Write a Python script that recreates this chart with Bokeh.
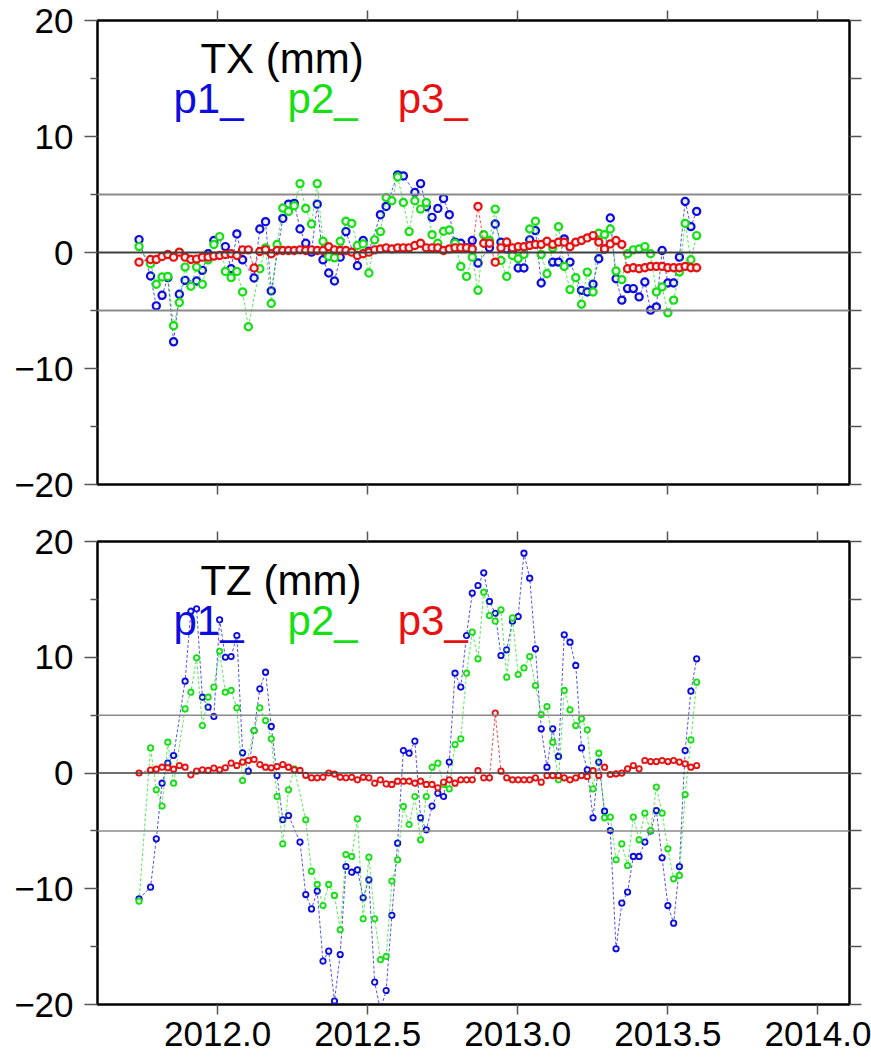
import numpy as np
import pandas as pd
from bokeh.plotting import figure
from bokeh.layouts import column
from bokeh.models import Range1d, FixedTicker, LinearAxis, Span, Label
from bokeh.embed import file_html
from bokeh.resources import INLINE

N = None
# weekly epochs (decimal years)
epochs = pd.date_range("2011-09-27", periods=98, freq="7D")
years = (epochs.year + (epochs.dayofyear - 0.5) / np.where(epochs.is_leap_year, 366, 365)).to_numpy()

x_ticks = [2012.0, 2012.5, 2013.0, 2013.5, 2014.0]
x_tick_labels = ["2012.0", "2012.5", "2013.0", "2013.5", "2014.0"]
y_ticks = [-20, -10, 0, 10, 20]
y_tick_labels = ["\u221220", "\u221210", "0", "10", "20"]
y_minor = [-15, -5, 5, 15]
series_names = ["p1_", "p2_", "p3_"]

tx_p1 = [1.11, N, -2.03, -4.6, -3.69, -2.17, -7.7, -3.6, -2.4, N,
         -2.46, -1.54, -0.11, 1.03, N, 0.51, -1.4, 1.6, -0.63, N,
         -2.2, 2.03, 2.66, -3.31, N, 2.94, 4.17, 4.23, 2.03, 0.8,
         0.03, 4.17, -0.63, -1.77, -2.46, -0.4, 1.8, N, -1.14, 1.03,
         0.11, N, 3.26, 3.97, N, 6.69, 6.6, N, 5.17, 5.94,
         3.94, 3.03, 3.8, 4.66, 3.26, 0.89, 0.8, 0.4, 1.03, -0.91,
         N, 0.4, 2.46, 0.89, 0.3, 0.2, -1.34, -1.34, 1.09, 1.89,
         -2.63, N, -0.83, -0.83, 1.17, -0.83, N, -3.26, -3.4, -2.74,
         -0.54, 0.3, 2.97, -2.26, -4.11, -3.11, -3.11, -3.83, -2.54, -4.97,
         -4.69, 0.17, -2.63, -2.63, -0.4, 4.4, 2.23, 3.54]
tx_p2 = [0.51, N, -0.97, -2.74, -2.11, -2.06, -6.31, -4.31, -1.26, -2.91,
         -1.26, -2.74, -0.63, 0.69, 1.37, -1.63, -2.17, -1.63, -3.4, -6.4,
         N, -1.4, 0.4, -4.4, 0.69, 3.83, 3.54, 4.03, 5.94, 3.8,
         2.46, 5.94, 0.97, -0.34, -0.46, 0.97, 2.69, 2.51, 0.6, 0.74,
         -1.77, 1.09, 1.8, 4.74, 4.46, 6.51, 4.31, 1.8, 4.46, 3.74,
         4.31, 1.54, 0.8, 1.83, 1.94, 0.8, -1.2, -2.06, -0.4, -3.26,
         1.54, 1.03, 3.74, -0.69, -2.06, -0.26, -0.54, -0.17, 2.03, 2.69,
         -0.17, -1.83, 0.4, 2.23, -1.2, -3.2, -2.17, -4.46, -1.69, -3.4,
         1.66, 1.54, 2.03, -1.6, -2.34, -0.11, 0.23, 0.31, 0.51, -0.11,
         -3.4, -2.97, -5.2, -4.11, -1.69, 2.51, -0.63, 1.46]
tx_p3 = [-0.83, N, -0.6, -0.6, -0.34, -0.17, -0.4, 0.03, -0.4, -0.6,
         -0.57, -0.4, -0.4, -0.31, -0.26, -0.17, -0.11, -0.26, 0.23, 0.23,
         -1.34, 0.09, 0.23, -0.11, 0.17, 0.17, 0.17, 0.17, 0.23, 0.17,
         0.23, 0.17, 0.17, 0.5, 0.23, 0.17, 0.17, 0.03, -0.26, -0.11,
         0.03, 0.23, 0.31, 0.4, 0.31, 0.4, 0.4, 0.4, 0.6, 0.8,
         0.4, 0.4, 0.4, 0.17, 0.31, 0.4, 0.4, 0.4, 0.31, 3.97,
         0.8, 0.8, -0.83, 0.4, 0.9, 0.4, 0.5, 0.5, 0.6, 0.69,
         0.69, 0.97, 0.69, 0.89, 0.89, 0.5, 0.89, 1.03, 1.26, 1.46,
         0.89, 0.3, 0.74, 1.03, 0.69, -1.4, -1.31, -1.4, -1.31, -1.2,
         -1.2, -1.2, -1.31, -1.31, -1.31, -1.2, -1.31, -1.31]

tz_p1 = [-10.87, N, -9.86, -5.69, -0.88, 0.85, 1.51, N, 7.93, 13.98,
         14.18, 6.55, 5.69, 4.88, 13.23, 10.0, 10.06, 11.88, 1.74, 0.16,
         3.67, 7.27, 8.71, 4.02, -0.22, -4.04, -3.67, N, -5.97, -10.5,
         -11.74, -10.2, -16.25, -15.39, -19.7, -15.68, -8.08, -8.57, -8.37, -10.78,
         -9.23, -18.07, -20.5, -18.79, -12.3, -6.06, 1.94, 1.71, 2.75, -3.87,
         -4.91, -2.86, -1.74, -2.03, 0.94, 8.62, 7.42, 11.88, 15.54, 16.2,
         17.29, 14.82, 13.8, 10.15, 10.64, 13.12, 13.52, 18.99, 16.83, 10.73,
         3.82, 0.5, 3.82, 1.43, 11.94, 11.3, 9.29, 2.17, 0.27, -3.87,
         0.94, -3.3, -4.97, -15.19, -11.24, -10.29, -7.21, -7.21, -5.97, -5.02,
         -3.24, -7.33, -11.45, -12.97, -8.08, 1.94, 7.07, 9.86]
tz_p2 = [-11.07, N, 2.17, -1.45, -2.86, 2.66, -0.88, N, 5.54, 6.98,
         9.95, 4.1, 6.55, 7.42, 10.52, 6.98, 7.13, 5.63, -0.65, N,
         3.67, 5.63, 4.53, 2.95, -2.03, -6.12, -1.45, 0.36, N, -4.04,
         -8.48, -9.63, -11.45, -9.63, -10.58, -13.54, -7.04, -7.21, -3.96, -12.6,
         -7.27, -12.6, -16.13, -15.85, -9.34, -7.5, -2.89, -4.45, -2.03, -5.77,
         -2.03, 0.5, 0.85, -0.99, -1.37, 2.46, 2.95, 8.62, 12.17, 9.86,
         15.62, 13.6, 13.12, 14.1, 8.28, 13.4, 8.51, 9.08, 10.06, 7.56,
         5.05, 5.74, 2.66, -0.59, 7.13, 5.46, 4.1, 4.68, 3.73, -1.37,
         1.71, -3.87, -3.81, -7.5, -6.12, -7.99, -3.81, -5.77, -3.47, -4.97,
         -1.22, -3.47, -6.55, -9.14, -8.85, -1.86, 2.86, 7.85]
tz_p3 = [0.0, N, 0.26, 0.33, 0.5, 0.45, 0.33, 0.65, 0.5, -0.16,
         0.16, 0.27, 0.22, 0.42, 0.27, 0.45, 0.85, 0.65, 0.94, 1.08,
         1.17, 0.73, 0.5, 0.45, 0.56, 0.73, 0.5, 0.27, 0.22, -0.2,
         -0.42, -0.42, -0.37, 0.0, -0.09, -0.37, -0.42, -0.37, -0.59, -0.37,
         -0.42, -0.88, -0.59, -0.94, -0.99, -0.71, -0.71, -0.71, -0.88, -0.71,
         -0.99, -0.99, -1.28, -0.79, -0.59, -0.88, -0.59, -0.59, -0.59, 0.2,
         -0.42, -0.42, 5.17, 0.16, -0.42, -0.59, -0.59, -0.59, -0.59, -0.42,
         -0.79, -0.22, -0.22, -0.22, -0.42, -0.59, -0.42, -0.22, -0.3, 0.2,
         -0.22, 0.5, -0.13, -0.07, -0.01, 0.36, 0.65, 0.36, 1.08, 0.99,
         0.99, 1.08, 0.99, 1.08, 0.94, 0.79, 0.5, 0.65]

COLORS = ["#0c0ce0", "#14e014", "#e81010"]
FONT = "Liberation Sans"
TICK_COLOR = "#555555"


def valid(xs, ys):
    xo, yo = [], []
    for a, b in zip(xs, ys):
        if b is not None:
            xo.append(a)
            yo.append(b)
    return xo, yo


def tick_only_axis(ticks, length):
    # ticks drawn as "minor" ticks so that no label text is produced
    ax = LinearAxis(ticker=FixedTicker(ticks=[], minor_ticks=ticks))
    ax.major_tick_line_color = None
    ax.minor_tick_out = length
    ax.minor_tick_in = 0
    ax.minor_tick_line_color = TICK_COLOR
    ax.minor_tick_line_width = 1.5
    ax.axis_line_color = None
    ax.major_label_standoff = 0
    return ax


def make_panel(title, data, height, top_border, bottom_border, show_xlabels,
               msize, mlw, grid_w, title_y, legend_y):
    p = figure(width=871, height=height, output_backend="svg", toolbar_location=None,
               x_range=Range1d(2011.6, 2014.105), y_range=Range1d(-20, 20),
               x_axis_location=None, y_axis_location=None,
               min_border_left=97, min_border_right=22,
               min_border_top=top_border, min_border_bottom=bottom_border)
    p.grid.visible = False
    p.background_fill_color = "white"
    p.border_fill_color = "white"
    p.outline_line_color = "black"
    p.outline_line_width = 2.5

    # left axis with labels
    ya = LinearAxis(ticker=FixedTicker(ticks=y_ticks, minor_ticks=y_minor))
    ya.major_label_overrides = {t: l for t, l in zip(y_ticks, y_tick_labels)}
    ya.major_tick_out = 13
    ya.major_tick_in = 0
    ya.minor_tick_out = 7
    ya.minor_tick_in = 0
    ya.axis_line_color = None
    ya.major_tick_line_color = TICK_COLOR
    ya.minor_tick_line_color = TICK_COLOR
    ya.major_tick_line_width = 1.5
    ya.minor_tick_line_width = 1.5
    ya.major_label_text_font = FONT
    ya.major_label_text_font_size = "35px"
    ya.major_label_text_color = "black"
    ya.major_label_standoff = 11
    p.add_layout(ya, "left")

    # right and top tick-only axes
    p.add_layout(tick_only_axis(y_ticks + y_minor, 12), "right")
    p.add_layout(tick_only_axis(x_ticks, 10), "above")

    if show_xlabels:
        xa = LinearAxis(ticker=FixedTicker(ticks=x_ticks, minor_ticks=[]))
        xa.major_label_overrides = {t: l for t, l in zip(x_ticks, x_tick_labels)}
        xa.major_tick_out = 10
        xa.major_tick_in = 0
        xa.minor_tick_line_color = None
        xa.axis_line_color = None
        xa.major_tick_line_color = TICK_COLOR
        xa.major_tick_line_width = 1.5
        xa.major_label_text_font = FONT
        xa.major_label_text_color = "black"
        xa.major_label_text_font_size = "35px"
        xa.major_label_standoff = 7
        p.add_layout(xa, "below")
    else:
        p.add_layout(tick_only_axis(x_ticks, 10), "below")

    # reference lines
    for lvl, col in [(5, "#8a8a8a"), (-5, "#8a8a8a"), (0, "#404040")]:
        p.add_layout(Span(location=lvl, dimension="width", line_color=col,
                          line_width=grid_w))

    for ys, col in zip(data, COLORS):
        xv, yv = valid(years, ys)
        p.line(xv, yv, line_color=col, line_width=1, line_dash="3 2", line_alpha=0.7)
        p.scatter(xv, yv, marker="circle", size=msize, line_color=col,
                  line_width=mlw, fill_color="#eeeeee")

    p.add_layout(Label(x=2011.943, y=title_y, text=title, text_font=FONT,
                       text_font_size="42px", text_color="black",
                       text_baseline="alphabetic", text_align="left"))
    for xname, name, col in zip([2011.853, 2012.233, 2012.6], series_names, COLORS):
        p.add_layout(Label(x=xname, y=legend_y, text=name, text_font=FONT,
                           text_font_size="42px", text_color=col,
                           text_baseline="alphabetic", text_align="left"))
    return p


top = make_panel("TX (mm)", [tx_p1, tx_p2, tx_p3], 520, 20, 36, False,
                 7.2, 2.2, 2, 16.7, 13.3)
bottom = make_panel("TZ (mm)", [tz_p1, tz_p2, tz_p3], 537, 21, 53, True,
                    5.4, 1.8, 1.5, 16.6, 13.2)

layout = column(top, bottom, spacing=0)
open("out.html", "w").write(file_html(layout, INLINE))
